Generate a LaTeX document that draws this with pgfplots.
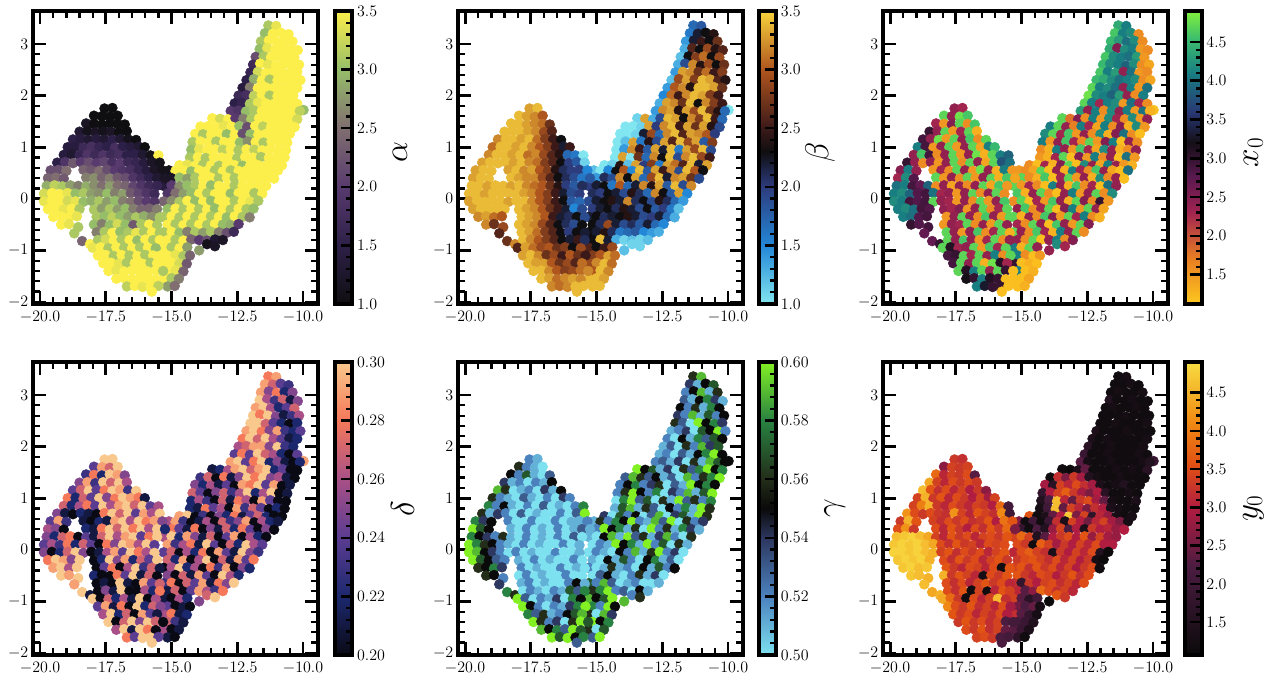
\documentclass[border=0pt]{standalone}
\usepackage{pgfplots}
\usepackage{pgfplotstable}
\pgfplotsset{compat=1.18}
\pgfplotstableread{
x y a b c d e f
-11.32 3.36 3.1 1.7 4.4 .28 .56 1.2
-11.02 3.35 3.4 1.8 4.1 .29 .59 1.3
-11.45 3.21 3.0 1.6 4.6 .29 .54 1.2
-11.15 3.2 3.5 2.2 4.1 .27 .51 1.2
-10.85 3.22 3.5 2.3 4.2 .24 .55 1.3
-10.55 3.19 3.5 2.4 1.6 .23 .57 1.2
-11.6 3.05 3.1 1.4 4.5 .29 .52 1.2
-11.3 3.07 3.5 2.2 4.3 .25 .55 1.3
-11.0 3.04 3.5 2.5 4.0 .28 .59 1.2
-10.7 3.06 3.5 2.3 4.2 .22 .51 1.2
-10.4 3.05 3.5 2.7 1.6 .25 .56 1.3
-11.65 2.9 3.0 1.3 4.4 .3 .53 1.5
-11.36 2.92 3.4 2.6 2.5 .26 .51 1.2
-11.07 2.89 3.5 2.3 4.2 .23 .55 1.2
-10.77 2.91 3.5 2.9 4.1 .27 .58 1.3
-10.47 2.9 3.5 2.4 1.5 .21 .54 1.2
-10.2 2.88 3.5 2.6 1.6 .25 .51 1.2
-11.8 2.75 2.2 1.2 4.6 .29 .55 1.2
-11.5 2.76 3.1 2.3 4.2 .3 .52 1.3
-11.22 2.74 3.5 2.8 4.1 .26 .56 1.2
-10.92 2.76 3.5 3.1 4.0 .22 .51 1.2
-10.62 2.75 3.5 2.3 4.3 .24 .58 1.3
-10.33 2.74 3.5 2.9 1.5 .27 .55 1.2
-11.9 2.6 1.7 1.3 4.5 .3 .54 1.2
-11.63 2.62 3.5 1.9 4.2 .28 .52 1.2
-11.33 2.6 3.4 3.2 4.1 .3 .59 1.2
-11.03 2.58 3.5 2.4 3.9 .25 .51 1.3
-10.73 2.61 3.5 2.9 4.2 .21 .57 1.2
-10.43 2.59 3.5 2.3 1.6 .23 .52 1.2
-10.15 2.6 3.5 2.7 1.4 .26 .55 1.2
-12.0 2.45 1.6 1.4 4.6 .3 .56 1.2
-11.72 2.46 3.3 3.3 4.1 .3 .53 1.2
-11.42 2.44 3.5 3.2 4.3 .27 .5 1.3
-11.12 2.46 3.5 2.7 2.4 .24 .6 1.2
-10.82 2.45 3.5 3.1 4.0 .22 .55 1.2
-10.52 2.44 3.5 2.5 1.5 .2 .58 1.2
-10.22 2.46 3.5 2.8 1.6 .22 .54 1.3
-12.15 2.3 1.5 1.2 4.5 .29 .51 1.4
-11.87 2.32 2.9 2.9 4.4 .3 .52 1.2
-11.57 2.29 3.5 3.3 4.2 .28 .54 1.2
-11.27 2.31 3.1 2.8 4.0 .25 .5 1.2
-10.97 2.3 3.5 3.4 4.1 .29 .57 1.3
-10.67 2.31 3.5 3.3 4.2 .23 .55 1.2
-10.37 2.29 3.5 2.6 1.6 .22 .6 1.2
-10.1 2.3 3.5 2.4 1.4 .24 .52 1.2
-12.3 2.15 1.4 1.4 4.7 .28 .52 1.4
-12.02 2.16 2.6 3.0 4.1 .3 .5 1.2
-11.72 2.14 3.5 3.2 4.2 .27 .55 1.3
-11.42 2.16 3.5 2.4 4.0 .3 .51 1.2
-11.12 2.15 3.5 3.4 2.4 .26 .58 1.2
-10.82 2.14 3.5 3.4 4.1 .24 .53 1.2
-10.52 2.16 3.5 3.3 1.5 .21 .57 1.2
-10.22 2.15 3.5 2.7 4.0 .22 .55 1.3
-12.45 2.0 1.7 1.5 4.8 .26 .51 1.6
-12.15 2.01 1.8 3.1 4.2 .27 .53 1.2
-11.87 1.99 3.2 2.5 4.1 .29 .5 1.2
-11.57 2.01 3.5 3.2 3.9 .29 .56 1.3
-11.27 2.0 3.1 3.4 4.3 .25 .52 1.2
-10.97 1.99 3.5 3.3 2.4 .3 .59 1.2
-10.67 2.01 3.5 2.8 1.6 .23 .54 1.2
-10.37 2.0 3.5 2.5 4.1 .22 .57 1.3
-12.6 1.85 1.5 1.3 4.7 .24 .51 1.9
-12.32 1.86 1.6 3.3 4.1 .28 .52 1.2
-12.02 1.84 3.1 3.2 2.3 .24 .5 1.2
-11.72 1.86 3.4 2.7 4.1 .3 .53 1.3
-11.42 1.85 3.5 3.4 4.2 .27 .51 1.2
-11.12 1.84 3.5 2.3 1.5 .26 .55 1.2
-10.82 1.86 3.5 3.2 4.0 .22 .58 1.2
-10.52 1.85 3.5 2.8 2.3 .2 .6 1.3
-10.22 1.84 3.5 2.5 1.6 .24 .55 1.2
-9.98 1.72 3.0 1.0 1.2 .29 .55 1.9
-12.75 1.7 2.0 1.4 4.3 .29 .52 2.3
-12.47 1.71 1.9 3.2 2.4 .3 .53 1.3
-12.17 1.69 3.0 3.3 4.1 .24 .51 1.2
-11.87 1.71 3.1 2.4 1.6 .28 .54 1.2
-11.57 1.7 3.5 3.3 4.2 .3 .5 1.3
-11.27 1.69 3.5 2.9 2.4 .22 .56 1.2
-10.97 1.71 3.5 3.4 4.1 .25 .51 1.2
-10.67 1.7 3.5 2.7 1.5 .21 .59 1.2
-10.37 1.69 3.5 2.4 4.0 .2 .57 1.3
-10.12 1.7 3.2 1.7 1.3 .22 .55 1.5
-13.45 1.56 3.5 1.1 4.7 .21 .6 1.2
-13.15 1.55 3.3 3.3 1.8 .22 .55 1.1
-12.85 1.54 3.5 1.3 2.5 .26 .57 1.4
-12.57 1.56 2.0 1.9 1.6 .29 .51 2.4
-12.27 1.55 2.6 3.4 4.1 .3 .54 1.2
-11.97 1.54 3.1 3.3 1.5 .27 .5 1.2
-11.67 1.56 3.5 2.3 4.2 .29 .56 1.2
-11.37 1.55 3.5 3.2 2.3 .3 .53 1.3
-11.07 1.54 3.5 2.8 1.6 .22 .58 1.2
-10.77 1.56 3.5 3.4 4.2 .24 .6 1.3
-10.47 1.55 3.5 2.5 1.5 .2 .55 1.2
-10.22 1.54 3.3 1.7 2.4 .2 .58 1.6
-13.9 1.4 3.5 1.0 4.1 .23 .53 1.2
-13.6 1.41 3.5 1.0 4.7 .27 .59 3.2
-13.3 1.39 3.5 1.1 2.4 .2 .56 2.6
-13.0 1.41 3.4 3.3 1.7 .28 .53 3.3
-12.72 1.4 3.5 2.0 4.1 .21 .55 2.9
-12.42 1.41 3.0 3.2 2.3 .25 .51 1.5
-12.12 1.39 2.2 3.4 1.4 .3 .53 1.3
-11.82 1.41 3.5 2.5 4.1 .28 .5 1.2
-11.52 1.4 3.2 3.3 1.6 .3 .59 1.2
-11.22 1.39 3.5 2.7 2.5 .25 .52 1.3
-10.92 1.41 3.5 3.3 1.3 .26 .56 1.2
-10.62 1.4 3.5 2.4 4.2 .21 .58 1.2
-10.32 1.39 3.5 1.9 1.5 .2 .6 1.2
-14.1 1.26 3.5 1.0 4.2 .25 .52 2.9
-13.8 1.25 3.1 1.0 4.7 .22 .55 1.6
-13.5 1.24 3.5 1.1 2.3 .26 .58 3.4
-13.2 1.26 3.5 2.2 4.6 .21 .52 3.1
-12.9 1.25 3.0 2.9 1.5 .24 .54 3.5
-12.6 1.24 3.5 1.7 2.4 .2 .56 3.2
-12.3 1.26 2.2 3.2 1.6 .29 .5 2.9
-12.0 1.25 3.0 3.4 4.2 .28 .53 1.4
-11.7 1.24 3.5 2.6 1.3 .3 .51 1.2
-11.4 1.26 3.5 3.3 2.5 .24 .6 1.3
-11.1 1.25 3.5 3.2 4.0 .29 .55 1.5
-10.8 1.24 3.5 3.0 1.6 .2 .58 1.2
-10.5 1.26 3.5 2.0 1.2 .21 .55 1.2
-14.2 1.1 3.1 1.0 4.1 .27 .52 1.8
-13.9 1.11 3.5 1.2 1.5 .24 .56 3.0
-13.6 1.09 3.5 3.3 2.4 .2 .6 3.4
-13.3 1.11 3.1 1.6 4.6 .25 .55 3.7
-13.0 1.1 3.5 2.4 2.3 .27 .52 3.3
-12.7 1.11 3.5 1.9 1.6 .23 .58 2.9
-12.4 1.09 3.0 3.3 4.7 .26 .5 2.6
-12.1 1.11 2.7 2.6 1.5 .3 .54 3.0
-11.8 1.1 3.5 3.4 2.5 .22 .52 1.6
-11.5 1.09 3.1 2.9 4.1 .26 .59 1.2
-11.2 1.11 3.5 3.3 1.2 .3 .51 1.2
-10.9 1.1 3.5 1.8 2.4 .2 .57 1.3
-10.6 1.09 3.5 2.8 1.6 .21 .6 1.2
-14.25 .95 3.0 1.0 1.6 .22 .5 1.5
-13.95 .96 3.4 1.4 1.3 .26 .58 2.2
-13.65 .94 3.5 3.2 4.1 .23 .6 4.6
-13.35 .96 3.5 2.5 2.4 .2 .53 3.1
-13.05 .95 3.2 1.8 1.5 .27 .57 2.4
-12.75 .96 3.5 3.3 4.6 .21 .5 3.3
-12.45 .94 3.1 2.2 2.3 .28 .56 3.5
-12.15 .96 3.5 3.4 1.4 .26 .51 2.9
-11.85 .95 3.2 1.6 4.2 .2 .6 2.4
-11.55 .94 3.5 3.3 2.4 .29 .53 1.3
-11.25 .96 3.5 2.9 1.3 .24 .56 1.2
-10.95 .95 3.5 3.4 1.6 .2 .52 1.2
-10.65 .94 3.5 1.9 2.4 .2 .58 1.4
-14.3 .8 3.1 1.0 1.5 .22 .51 1.3
-14.0 .81 3.5 3.3 1.3 .21 .57 2.0
-13.7 .79 3.1 1.0 2.3 .28 .59 4.6
-13.4 .81 3.5 2.7 4.7 .24 .51 2.4
-13.1 .8 3.5 1.7 1.2 .26 .56 3.4
-12.8 .81 3.5 3.2 2.5 .2 .53 3.1
-12.5 .79 3.1 2.3 1.5 .29 .5 2.6
-12.2 .81 3.5 3.4 4.1 .23 .55 3.2
-11.9 .8 3.5 1.9 1.6 .27 .52 3.0
-11.6 .81 3.1 3.2 2.4 .24 .58 1.4
-11.3 .79 3.5 3.4 1.2 .2 .51 1.3
-11.0 .81 3.5 2.9 4.0 .22 .6 1.2
-10.7 .8 3.5 2.5 1.5 .2 .56 1.2
-14.7 .65 3.5 1.0 1.6 .29 .54 3.6
-14.4 .66 3.4 1.1 1.2 .3 .5 1.2
-14.1 .64 3.5 2.4 2.3 .2 .57 1.4
-13.8 .66 3.1 1.2 1.3 .23 .52 2.4
-13.5 .65 3.5 3.3 2.5 .2 .55 3.0
-13.2 .64 3.1 2.0 4.7 .25 .5 4.7
-12.9 .66 3.5 2.8 1.2 .22 .53 2.6
-12.6 .65 3.5 1.6 4.2 .28 .59 3.4
-12.3 .64 3.0 3.3 2.4 .21 .5 1.7
-12.0 .66 3.5 3.1 1.4 .24 .54 3.1
-11.7 .65 3.5 2.6 4.1 .27 .57 2.8
-11.4 .64 3.5 3.4 2.4 .22 .51 1.3
-11.1 .66 3.5 2.2 1.5 .2 .6 1.2
-10.8 .65 3.5 3.3 1.3 .2 .56 1.3
-15.1 .55 1.1 1.2 1.5 .26 .51 2.6
-14.85 .54 3.5 1.0 1.6 .29 .56 1.2
-14.55 .55 3.5 1.5 1.4 .23 .52 2.0
-14.25 .53 3.0 2.3 4.7 .2 .58 1.2
-13.95 .55 3.5 3.0 1.2 .21 .55 1.9
-13.65 .54 3.5 1.5 2.4 .26 .6 3.2
-13.35 .55 3.1 3.4 1.3 .2 .52 1.4
-13.05 .53 3.5 1.8 4.1 .27 .51 3.4
-12.75 .55 3.1 3.3 2.3 .23 .59 3.0
-12.45 .54 3.5 2.5 1.6 .25 .53 2.5
-12.15 .55 3.5 3.2 4.6 .29 .6 3.1
-11.85 .53 3.5 1.9 2.4 .2 .5 3.4
-11.55 .55 3.5 3.4 1.4 .26 .56 2.9
-11.25 .54 3.5 3.0 1.2 .22 .52 2.6
-10.95 .55 3.5 2.3 4.0 .21 .54 1.3
-15.0 .4 1.2 1.4 4.7 .28 .52 1.8
-14.7 .41 3.0 2.1 1.6 .24 .6 1.2
-14.4 .39 2.8 1.9 1.3 .21 .55 2.2
-14.1 .41 3.1 3.2 4.6 .28 .58 1.5
-13.8 .4 3.5 2.3 1.2 .2 .51 2.8
-13.5 .41 3.5 3.3 2.3 .25 .56 3.4
-13.2 .39 3.1 1.7 4.7 .21 .5 2.2
-12.9 .41 3.5 2.9 1.5 .27 .6 3.0
-12.6 .4 3.1 3.4 2.4 .22 .52 1.4
-12.3 .41 3.5 2.2 1.3 .28 .56 3.3
-12.0 .39 3.5 3.2 4.2 .24 .51 3.0
-11.7 .41 3.5 3.3 1.6 .2 .58 3.1
-11.4 .4 3.5 2.7 2.4 .25 .54 2.8
-11.1 .39 3.5 1.9 1.2 .2 .51 3.0
-15.3 .25 1.4 2.0 4.7 .26 .51 3.4
-15.0 .26 2.0 2.2 1.5 .3 .5 3.8
-14.7 .24 2.7 2.3 2.3 .22 .55 3.4
-14.4 .26 3.0 1.6 1.6 .29 .59 1.5
-14.1 .25 3.1 3.0 1.2 .25 .51 2.3
-13.8 .24 3.5 1.7 4.1 .21 .6 3.0
-13.5 .26 3.0 2.2 2.4 .27 .53 3.3
-13.2 .25 3.5 3.2 1.3 .2 .56 3.5
-12.9 .24 3.5 2.4 4.6 .24 .51 3.0
-12.6 .26 3.1 3.3 1.6 .29 .54 3.6
-12.3 .25 3.5 1.8 2.3 .2 .59 2.8
-12.0 .24 3.5 3.4 1.2 .26 .52 3.4
-11.7 .26 3.5 1.9 4.0 .22 .5 2.9
-11.4 .25 3.5 3.2 2.4 .2 .56 2.8
-15.15 .1 1.9 2.1 4.6 .29 .5 3.5
-14.85 .11 2.5 2.0 1.3 .23 .52 3.3
-14.55 .09 2.8 2.3 2.4 .26 .51 1.2
-14.25 .11 3.0 2.2 4.7 .28 .6 3.7
-13.95 .1 3.5 1.9 1.6 .21 .55 3.4
-13.65 .11 3.1 2.4 1.2 .3 .58 2.9
-13.35 .09 3.5 2.1 2.4 .24 .51 3.3
-13.05 .11 3.5 1.7 4.1 .2 .6 3.0
-12.75 .1 3.0 3.2 1.5 .27 .52 3.4
-12.45 .11 3.5 2.3 2.4 .22 .57 3.1
-12.15 .09 3.5 1.8 4.7 .3 .5 3.5
-11.85 .11 3.1 3.3 1.6 .26 .56 3.0
-11.55 .1 3.5 1.5 4.2 .24 .51 3.0
-15.3 -.05 2.4 1.9 1.6 .24 .5 3.1
-15.0 -.04 2.7 2.2 4.7 .27 .52 3.5
-14.7 -.06 3.1 2.3 1.2 .2 .51 3.7
-14.4 -.04 3.5 2.4 2.3 .26 .5 3.4
-14.1 -.05 3.0 2.2 1.5 .22 .55 3.2
-13.8 -.06 3.5 3.2 4.6 .28 .52 1.4
-13.5 -.04 3.0 2.1 2.4 .2 .59 3.3
-13.2 -.05 3.5 2.3 1.3 .29 .51 3.0
-12.9 -.06 3.5 1.9 4.7 .24 .56 3.4
-12.6 -.04 3.1 2.4 2.5 .21 .6 3.1
-12.3 -.05 3.5 2.1 1.6 .3 .52 3.5
-12.0 -.06 3.4 1.7 3.0 .25 .54 1.5
-11.7 -.04 3.1 1.4 1.5 .23 .5 1.1
-15.15 -.2 3.0 2.0 2.4 .27 .51 3.3
-14.85 -.19 3.5 2.2 4.6 .22 .5 3.5
-14.55 -.21 3.1 2.3 1.6 .29 .55 3.6
-14.25 -.19 3.5 2.1 2.3 .2 .51 3.4
-13.95 -.2 3.1 2.4 4.7 .26 .57 3.2
-13.65 -.21 3.5 2.2 1.2 .3 .52 3.5
-13.35 -.19 3.0 1.9 2.5 .2 .5 3.1
-13.05 -.2 3.5 2.3 4.1 .27 .55 3.4
-12.75 -.21 3.1 1.8 1.5 .21 .58 3.0
-12.45 -.19 3.5 2.0 4.7 .29 .51 3.3
-12.15 -.2 3.1 1.6 2.4 .24 .53 1.3
-11.88 -.19 3.0 1.2 1.4 .28 .5 1.1
-15.3 -.35 3.1 2.2 4.7 .2 .52 3.4
-15.0 -.34 3.5 2.3 1.3 .26 .5 3.6
-14.7 -.36 3.1 2.1 2.4 .3 .51 3.2
-14.4 -.34 3.5 2.2 1.6 .22 .56 3.6
-14.1 -.35 3.1 2.3 4.6 .26 .51 3.3
-13.8 -.36 3.5 2.4 2.5 .2 .52 3.5
-13.5 -.34 3.1 2.2 1.5 .28 .5 3.1
-13.2 -.35 3.5 1.9 4.7 .23 .55 3.4
-12.9 -.36 3.0 2.0 2.3 .29 .51 3.0
-12.6 -.34 3.5 2.2 4.1 .2 .57 3.3
-12.3 -.35 3.1 1.7 1.6 .25 .52 3.5
-12.03 -.36 2.6 1.3 1.3 .22 .55 1.2
-15.15 -.5 3.5 2.3 2.3 .25 .5 3.6
-14.85 -.49 3.1 2.1 1.6 .2 .53 3.3
-14.55 -.51 3.5 2.9 4.7 .27 .55 3.1
-14.25 -.49 3.1 2.2 2.4 .21 .51 3.5
-13.95 -.5 3.5 1.9 1.2 .29 .5 3.4
-13.65 -.51 3.1 2.1 4.6 .24 .52 3.0
-13.35 -.49 3.5 1.8 2.4 .2 .56 3.3
-13.05 -.5 3.0 2.2 1.5 .3 .51 3.6
-12.75 -.51 2.9 1.7 4.7 .26 .54 3.2
-12.45 -.49 2.0 1.5 2.5 .22 .5 3.5
-15.3 -.65 3.1 2.3 4.7 .23 .57 3.2
-15.0 -.64 3.5 2.2 2.4 .28 .52 1.8
-14.7 -.66 3.0 2.4 1.6 .2 .59 3.3
-14.4 -.64 2.6 2.1 4.6 .27 .53 3.0
-14.1 -.65 3.1 1.6 2.3 .24 .5 3.4
-13.8 -.66 2.8 1.7 1.3 .29 .51 3.5
-13.5 -.64 3.1 1.8 4.1 .21 .52 3.2
-13.2 -.65 2.6 1.5 2.4 .28 .5 3.4
-12.9 -.66 2.2 1.4 4.7 .25 .5 3.1
-12.63 -.64 1.7 1.3 1.6 .3 .51 3.5
-15.15 -.8 3.5 2.3 2.4 .21 .56 3.1
-14.85 -.79 3.1 3.4 1.6 .27 .58 2.3
-14.55 -.81 3.5 2.2 4.7 .2 .6 2.7
-14.25 -.79 2.4 1.3 1.2 .24 .52 3.8
-13.95 -.8 2.0 1.1 2.4 .29 .53 3.5
-13.65 -.81 2.2 1.2 4.1 .26 .5 3.2
-13.35 -.79 1.3 1.1 1.6 .23 .55 3.4
-13.05 -.8 1.2 1.2 2.5 .28 .51 3.1
-15.3 -.95 3.5 2.6 4.1 .21 .59 3.4
-15.0 -.94 3.1 2.3 1.3 .2 .55 2.3
-14.7 -.96 3.5 2.5 4.7 .26 .57 1.6
-14.4 -.94 2.8 2.9 2.4 .22 .6 2.0
-13.95 -1.0 2.8 1.2 2.4 .25 .59 1.1
-13.65 -.88 1.1 1.1 4.2 .27 .52 3.6
-13.35 -.92 1.2 1.1 2.3 .3 .56 3.3
-15.15 -1.1 3.5 2.8 4.1 .24 .58 2.5
-14.85 -1.09 3.4 3.0 1.6 .2 .52 2.2
-14.55 -1.11 3.1 3.3 1.2 .21 .6 2.4
-14.3 -1.1 2.4 3.1 1.5 .2 .55 1.3
-15.3 -1.25 3.5 2.9 3.0 .26 .56 3.2
-15.0 -1.24 3.5 3.2 1.2 .28 .5 2.3
-14.7 -1.26 3.3 3.4 1.3 .21 .59 1.8
-14.42 -1.26 2.3 3.1 1.2 .22 .54 1.3
-15.15 -1.4 3.5 3.0 4.1 .27 .6 2.1
-14.85 -1.39 3.4 3.4 1.2 .23 .55 1.9
-14.55 -1.41 2.4 3.2 1.3 .21 .58 1.5
-15.3 -1.55 3.5 3.4 1.2 .26 .56 2.3
-15.0 -1.54 3.1 3.4 1.2 .2 .5 1.9
-14.72 -1.55 2.6 3.3 1.4 .21 .57 1.4
-15.15 -1.7 2.8 3.4 1.2 .21 .53 1.7
-14.88 -1.69 2.5 3.4 1.3 .2 .6 1.2
-17.55 1.75 1.0 3.3 2.4 .3 .52 3.3
-17.25 1.76 1.0 3.4 2.3 .3 .51 3.2
-17.95 1.61 1.0 3.4 4.7 .24 .56 2.7
-17.65 1.6 1.0 3.3 2.4 .29 .52 3.4
-17.35 1.59 1.0 3.2 4.8 .27 .51 3.3
-17.05 1.61 1.0 3.0 4.6 .3 .5 3.4
-18.25 1.46 1.2 3.4 2.3 .23 .55 3.8
-17.95 1.45 1.0 3.4 1.5 .28 .52 3.1
-17.65 1.44 1.0 3.3 2.5 .22 .57 3.4
-17.35 1.46 1.0 3.2 4.7 .3 .51 3.3
-17.05 1.45 1.0 3.1 1.6 .29 .5 3.5
-16.78 1.44 1.0 2.7 4.6 .25 .53 2.3
-18.5 1.3 1.3 3.4 3.0 .25 .54 4.4
-18.2 1.31 1.1 3.4 2.4 .29 .51 3.4
-17.9 1.29 1.2 3.4 4.7 .23 .52 3.1
-17.6 1.31 1.1 3.3 1.5 .3 .5 3.5
-17.3 1.3 1.2 3.2 2.3 .27 .52 3.3
-17.0 1.29 1.0 2.9 4.7 .3 .51 3.5
-16.7 1.31 1.0 2.6 1.3 .26 .55 3.3
-18.75 1.15 1.5 3.2 2.9 .24 .59 4.6
-18.45 1.16 1.4 3.4 2.4 .27 .56 3.6
-18.15 1.14 1.3 3.4 4.8 .3 .5 3.2
-17.85 1.16 1.4 3.3 1.5 .24 .51 3.5
-17.55 1.15 1.3 3.4 4.7 .28 .52 3.1
-17.25 1.14 1.5 3.1 2.4 .3 .5 3.4
-16.95 1.16 1.3 2.8 4.6 .29 .54 3.0
-16.65 1.15 1.1 2.5 1.6 .23 .51 3.3
-16.35 1.14 1.0 2.3 4.7 .3 .55 2.7
-18.95 1.0 1.4 3.1 4.1 .28 .56 3.4
-18.65 1.01 1.4 3.4 2.9 .22 .52 4.5
-18.35 .99 1.7 3.4 1.5 .27 .51 3.3
-18.05 1.01 1.8 3.3 2.4 .24 .5 3.6
-17.75 1.0 1.6 3.4 4.7 .3 .53 3.1
-17.45 1.01 1.5 3.2 1.5 .25 .51 3.5
-17.15 .99 1.8 3.0 2.4 .28 .5 3.3
-16.85 1.01 1.5 2.8 4.7 .3 .52 3.0
-16.55 1.0 1.4 2.5 1.4 .29 .5 3.4
-16.25 1.01 1.3 2.2 4.1 .28 .54 2.9
-16.02 1.0 1.0 2.5 4.5 .21 .52 3.4
-19.1 .85 1.4 3.2 2.4 .27 .58 3.4
-18.8 .86 1.3 3.4 4.6 .22 .52 4.0
-18.5 .84 1.6 3.4 2.9 .26 .55 4.5
-18.2 .86 1.9 3.3 1.6 .28 .51 3.3
-17.9 .85 1.7 3.4 2.4 .24 .5 3.1
-17.6 .84 1.9 3.1 4.7 .3 .52 3.5
-17.3 .86 1.7 3.2 1.5 .26 .5 3.3
-17.0 .85 1.8 2.9 2.4 .29 .53 3.1
-16.7 .84 1.5 2.6 4.8 .3 .5 3.4
-16.4 .86 1.5 2.4 1.3 .27 .51 3.3
-16.1 .85 1.3 1.7 4.7 .3 .5 3.0
-15.8 .84 1.1 1.6 4.1 .24 .52 3.8
-15.5 .84 3.5 1.0 3.9 .26 .58 2.1
-19.35 .7 1.5 3.3 3.0 .25 .56 4.2
-19.05 .71 1.9 3.4 2.4 .21 .51 3.5
-18.75 .69 2.3 3.4 1.6 .2 .54 3.3
-18.45 .71 2.0 3.4 2.4 .22 .52 3.5
-18.15 .7 2.2 3.3 1.5 .21 .5 3.3
-17.85 .69 2.0 3.4 2.4 .2 .53 3.2
-17.55 .71 2.1 3.2 4.7 .28 .5 4.2
-17.25 .7 1.8 3.1 1.6 .3 .51 3.4
-16.95 .69 2.0 2.8 4.7 .27 .5 3.1
-16.65 .71 1.7 2.6 2.4 .3 .5 3.6
-16.35 .7 1.6 2.3 1.4 .24 .52 3.4
-16.05 .69 1.4 2.0 4.7 .29 .5 3.2
-15.75 .71 1.2 1.8 3.8 .26 .53 4.1
-15.45 .7 1.1 1.1 4.0 .3 .6 2.0
-19.6 .55 2.2 3.3 2.5 .24 .58 3.3
-19.3 .56 2.2 3.4 4.1 .29 .54 4.5
-19.0 .54 2.5 3.4 2.4 .23 .55 3.6
-18.35 .56 2.4 3.3 1.5 .21 .52 3.4
-18.05 .55 2.3 3.4 2.3 .2 .5 3.2
-17.75 .54 2.5 3.2 1.6 .22 .5 3.5
-17.45 .56 2.2 3.3 4.7 .21 .52 3.3
-17.15 .55 2.0 3.0 2.4 .29 .5 3.5
-16.85 .54 1.9 2.8 1.5 .3 .5 3.2
-16.55 .56 1.8 2.4 4.8 .26 .52 3.3
-16.25 .55 1.6 2.1 2.4 .3 .5 3.6
-15.95 .54 1.4 2.0 1.3 .28 .51 3.0
-15.65 .56 1.2 2.0 4.1 .29 .51 3.9
-15.35 .55 1.1 1.5 1.5 .25 .52 3.6
-19.7 .4 2.4 3.3 2.3 .26 .6 3.5
-19.4 .41 2.5 3.4 4.2 .25 .57 4.2
-19.1 .39 2.3 3.4 2.8 .2 .55 3.3
-18.25 .41 2.6 3.4 4.7 .22 .51 3.5
-17.95 .4 2.7 3.3 1.5 .21 .5 3.1
-17.65 .41 2.4 3.2 2.4 .28 .52 3.6
-17.35 .39 2.6 3.2 1.6 .3 .5 3.3
-17.05 .41 2.3 2.9 4.7 .27 .51 3.0
-16.75 .4 2.2 2.6 1.5 .3 .5 3.5
-16.45 .41 1.9 2.3 2.4 .28 .52 3.2
-16.15 .39 1.7 2.1 4.7 .3 .5 3.6
-15.85 .41 1.5 1.9 1.3 .26 .51 3.3
-15.55 .4 1.3 1.6 4.6 .3 .53 3.8
-15.25 .4 1.2 1.8 1.4 .22 .51 2.6
-19.75 .25 2.9 3.4 4.0 .25 .58 4.6
-19.45 .26 3.2 3.4 4.1 .22 .55 4.7
-19.15 .24 3.1 3.3 2.9 .27 .54 4.8
-18.85 .26 2.8 3.4 2.7 .28 .52 4.6
-18.55 .25 2.6 3.4 3.9 .2 .56 4.4
-18.25 .24 2.9 3.3 1.6 .24 .51 3.4
-17.95 .26 2.7 3.4 2.4 .21 .5 3.1
-17.65 .25 2.5 3.2 1.4 .27 .52 3.6
-17.35 .24 2.8 3.1 2.4 .3 .5 3.3
-17.05 .26 2.5 3.0 1.6 .26 .51 3.5
-16.75 .25 2.4 2.7 2.4 .29 .5 3.1
-16.45 .24 2.1 2.4 4.7 .3 .52 3.4
-16.15 .26 1.9 2.0 1.4 .24 .5 3.5
-15.85 .25 1.7 1.8 4.6 .28 .53 3.3
-15.55 .25 1.6 2.1 1.5 .3 .5 3.6
-19.85 .1 3.3 3.4 4.1 .24 .6 4.7
-19.55 .11 3.5 3.4 4.2 .26 .58 4.8
-19.25 .09 3.5 3.3 3.9 .23 .56 4.7
-18.95 .11 3.4 3.4 2.8 .28 .55 4.8
-18.65 .1 3.0 3.4 2.9 .22 .52 4.6
-18.35 .11 3.1 3.4 4.0 .27 .51 4.4
-18.05 .09 2.8 3.4 2.3 .24 .5 3.5
-17.75 .11 2.7 3.3 2.4 .2 .52 3.2
-17.45 .1 3.0 3.2 1.5 .28 .5 3.6
-17.15 .11 2.6 3.0 2.4 .25 .51 3.3
-16.85 .09 2.8 2.8 4.7 .3 .5 3.4
-16.55 .11 2.3 2.5 1.6 .29 .5 3.1
-16.25 .1 2.1 2.2 2.4 .26 .52 3.5
-15.95 .11 1.9 1.9 4.7 .3 .5 3.4
-15.65 .09 1.7 2.0 1.6 .24 .51 3.5
-19.85 -.05 3.4 3.3 4.2 .25 .6 4.8
-19.55 -.04 3.5 3.4 4.1 .2 .59 4.8
-19.25 -.06 3.5 3.4 2.9 .22 .55 4.7
-18.95 -.04 3.3 3.4 2.8 .27 .54 4.8
-18.65 -.05 3.4 3.4 2.9 .3 .52 4.6
-18.35 -.06 3.0 3.3 4.7 .25 .5 4.5
-18.05 -.04 2.9 3.4 2.4 .2 .52 3.4
-17.75 -.05 3.1 3.4 2.3 .21 .5 3.6
-17.45 -.06 2.8 3.2 1.5 .26 .51 3.2
-17.15 -.04 3.0 3.0 2.4 .29 .5 3.5
-16.85 -.05 2.6 2.8 1.6 .24 .5 3.3
-16.55 -.06 2.5 2.5 4.7 .3 .52 3.5
-16.25 -.04 2.2 2.3 1.5 .28 .5 3.1
-15.95 -.05 2.0 1.8 2.4 .26 .5 3.4
-15.65 -.06 1.9 1.7 4.6 .3 .51 3.6
-19.7 -.2 3.5 3.3 4.1 .28 .6 4.7
-19.4 -.19 3.5 3.4 4.2 .3 .57 4.8
-19.1 -.21 3.4 3.4 4.0 .29 .55 4.7
-18.8 -.19 3.5 3.4 2.9 .25 .53 4.8
-18.5 -.2 3.1 3.4 2.8 .3 .52 4.5
-17.95 -.21 3.1 3.4 2.4 .2 .51 3.5
-17.65 -.19 2.8 3.3 2.3 .22 .5 3.2
-17.35 -.2 3.1 3.2 2.5 .3 .52 3.6
-17.05 -.21 2.8 3.0 1.5 .25 .5 3.3
-16.75 -.19 3.0 2.7 2.4 .29 .51 3.5
-16.45 -.2 2.6 2.5 4.7 .22 .5 3.1
-16.15 -.21 2.4 2.2 1.6 .27 .5 3.4
-15.85 -.19 2.4 1.5 2.3 .24 .52 3.6
-15.55 -.2 2.6 1.9 4.7 .3 .5 3.3
-19.5 -.35 3.5 3.2 4.1 .29 .56 4.7
-19.2 -.34 3.5 3.3 4.0 .3 .55 4.8
-18.9 -.36 3.5 3.1 2.8 .26 .58 4.6
-18.6 -.34 3.4 3.0 2.9 .3 .54 4.7
-17.85 -.35 3.1 3.4 1.5 .2 .52 3.6
-17.55 -.34 3.0 3.3 2.4 .24 .5 3.3
-17.25 -.36 3.2 3.2 4.7 .28 .51 3.1
-16.95 -.34 3.0 3.0 2.4 .2 .5 3.5
-16.65 -.35 2.8 2.5 1.6 .26 .5 3.4
-16.35 -.36 3.1 2.2 4.6 .3 .52 3.1
-16.05 -.34 2.9 2.1 2.4 .23 .5 3.5
-15.75 -.35 2.7 2.3 1.5 .27 .51 1.2
-15.45 -.36 3.1 1.9 4.7 .21 .5 3.6
-19.2 -.5 3.5 3.2 3.0 .3 .56 4.7
-18.9 -.49 3.4 2.7 2.8 .29 .55 4.6
-18.55 -.55 3.1 2.9 2.9 .3 .52 4.5
-17.95 -.5 3.0 3.4 1.5 .22 .5 4.5
-17.65 -.49 2.6 3.3 2.4 .2 .52 3.3
-17.35 -.51 3.0 3.2 2.3 .2 .5 3.6
-17.05 -.49 3.3 2.9 4.7 .28 .51 3.4
-16.75 -.5 3.0 2.6 1.6 .24 .5 3.1
-16.45 -.51 2.3 2.3 2.4 .3 .5 1.3
-16.15 -.49 3.1 2.1 1.5 .21 .52 3.5
-15.85 -.5 3.5 1.9 4.7 .27 .5 3.3
-15.55 -.51 3.1 2.3 2.4 .2 .5 3.6
-18.7 -.67 3.1 2.6 2.7 .29 .54 4.6
-17.85 -.65 2.6 3.4 4.7 .2 .51 3.5
-17.55 -.64 3.1 3.3 2.4 .21 .52 3.2
-17.25 -.66 3.5 3.1 1.5 .2 .5 3.5
-16.95 -.64 3.0 2.8 2.4 .3 .51 3.1
-16.65 -.65 3.1 2.6 4.6 .21 .5 3.4
-16.35 -.66 3.4 2.3 1.6 .2 .5 3.6
-16.05 -.64 3.1 2.0 2.3 .29 .52 3.3
-15.75 -.65 3.5 2.3 4.7 .24 .55 3.5
-15.45 -.66 3.1 2.2 1.3 .27 .51 3.1
-18.4 -.82 2.4 2.7 2.7 .3 .58 4.4
-18.1 -.88 3.5 3.2 3.0 .21 .56 4.5
-17.8 -.8 3.1 3.4 4.7 .2 .5 3.5
-17.5 -.79 3.3 3.2 2.4 .25 .52 3.2
-17.2 -.81 3.5 3.0 4.6 .21 .51 3.6
-16.9 -.79 3.1 2.8 2.4 .3 .5 1.2
-16.6 -.8 3.5 2.6 1.5 .2 .52 3.4
-16.3 -.81 3.0 2.3 2.3 .2 .51 1.2
-16.0 -.79 3.5 2.2 4.7 .26 .57 3.1
-15.7 -.8 3.1 2.5 1.6 .22 .53 3.6
-15.45 -.8 3.5 2.1 2.4 .28 .58 3.4
-18.0 -.95 3.4 2.6 4.7 .3 .6 4.4
-17.7 -.94 3.5 3.3 3.1 .2 .53 3.8
-17.4 -.96 3.1 3.1 2.3 .27 .5 3.3
-17.1 -.94 3.5 2.9 2.4 .22 .52 1.2
-16.8 -.95 3.1 3.0 4.7 .26 .51 3.5
-16.5 -.96 3.5 2.7 1.5 .21 .54 3.1
-16.2 -.94 3.1 2.8 4.6 .3 .5 3.4
-15.9 -.95 3.5 2.3 2.3 .2 .58 4.6
-15.6 -.96 3.0 2.9 4.7 .26 .55 3.2
-17.8 -1.1 3.5 3.3 2.9 .24 .6 4.1
-17.5 -1.09 3.5 3.4 3.0 .29 .55 3.5
-17.2 -1.11 3.1 3.2 4.7 .21 .52 3.3
-16.9 -1.09 3.5 2.7 2.3 .28 .5 3.6
-16.6 -1.1 3.1 2.9 4.7 .2 .52 3.2
-16.3 -1.11 3.5 2.5 2.4 .3 .51 3.4
-16.0 -1.09 3.1 3.0 4.1 .22 .54 3.1
-15.7 -1.1 3.5 2.7 1.6 .27 .58 3.5
-15.42 -1.1 3.5 2.5 4.7 .25 .6 2.9
-17.6 -1.25 3.5 3.4 2.9 .26 .58 3.6
-17.3 -1.24 3.5 3.3 4.7 .3 .53 3.3
-17.0 -1.26 3.4 3.3 2.4 .22 .56 3.5
-16.7 -1.24 3.1 3.0 4.7 .27 .51 3.1
-16.4 -1.25 3.5 2.7 1.3 .2 .52 3.4
-16.1 -1.26 3.5 2.9 4.8 .29 .55 3.2
-15.8 -1.24 3.1 2.6 3.1 .24 .57 3.5
-15.55 -1.25 3.5 3.1 2.3 .21 .59 3.0
-17.4 -1.4 3.5 3.4 4.7 .3 .6 3.3
-17.1 -1.39 3.4 3.4 3.1 .2 .56 3.6
-16.8 -1.41 3.5 3.2 4.1 .27 .52 3.3
-16.5 -1.39 3.5 3.0 4.7 .3 .54 3.5
-16.2 -1.4 3.5 2.8 2.4 .25 .5 3.2
-15.9 -1.41 3.5 2.9 4.7 .3 .56 3.4
-15.6 -1.39 3.5 3.1 3.0 .27 .6 2.2
-15.32 -1.4 3.1 3.2 1.2 .2 .57 2.1
-17.1 -1.55 3.5 3.4 3.2 .26 .59 3.5
-16.8 -1.54 3.5 3.3 3.0 .3 .55 3.3
-16.5 -1.56 3.5 3.1 4.1 .21 .58 3.6
-16.2 -1.54 3.5 3.2 3.1 .3 .53 3.2
-15.9 -1.55 3.5 3.3 3.0 .28 .6 3.4
-15.6 -1.56 3.5 3.2 1.2 .2 .57 2.4
-16.7 -1.7 3.2 3.2 4.1 .28 .6 3.4
-16.4 -1.69 3.5 3.1 3.3 .24 .57 3.5
-16.1 -1.71 3.4 3.2 3.0 .3 .6 3.3
-15.8 -1.7 3.5 3.4 3.0 .3 .55 2.2
-15.5 -1.69 3.2 3.4 1.2 .24 .58 2.1
-15.75 -1.8 3.5 3.4 1.2 .3 .53 2.2
}\pts
\pgfplotsset{
 colormap={ca}{rgb255(0)=(15,14,16) rgb255(2)=(45,32,72) rgb255(4)=(88,58,110) rgb255(6)=(128,110,112) rgb255(8)=(150,190,105) rgb255(10)=(252,238,75)},
 colormap={cb}{rgb255(0)=(130,230,240) rgb255(2)=(35,135,215) rgb255(4)=(45,60,125) rgb255(5.2)=(15,14,16) rgb255(6)=(60,25,25) rgb255(8)=(175,85,30) rgb255(10)=(248,212,60)},
 colormap={cc}{rgb255(0)=(253,200,30) rgb255(2)=(232,125,35) rgb255(4)=(160,35,80) rgb255(5.5)=(90,25,80) rgb255(7)=(20,15,22) rgb255(8.3)=(40,55,115) rgb255(10)=(25,125,130) rgb255(11.5)=(60,190,110) rgb255(12.7)=(130,240,60)},
 colormap={cd}{rgb255(0)=(10,10,20) rgb255(2)=(28,40,110) rgb255(4)=(90,60,145) rgb255(6)=(168,80,135) rgb255(8)=(245,120,90) rgb255(10)=(248,200,140)},
 colormap={ce}{rgb255(0)=(125,225,240) rgb255(2)=(75,130,190) rgb255(4)=(45,55,95) rgb255(5)=(10,10,10) rgb255(6)=(35,45,25) rgb255(8)=(40,130,65) rgb255(10)=(130,240,35)},
 colormap={cf}{rgb255(0)=(10,10,10) rgb255(3)=(75,28,65) rgb255(5)=(175,28,65) rgb255(6.5)=(225,80,20) rgb255(8)=(240,140,20) rgb255(10)=(248,220,65)},
 panel/.style={
  scale only axis, width=213.75pt, height=219.75pt,
  xmin=-20.27, xmax=-9.43, ymin=-2.04, ymax=3.64,
  anchor=south west, clip=true,
  xtick={-20,-17.5,-15,-12.5,-10}, ytick={-2,-1,0,1,2,3},
  minor x tick num=4, minor y tick num=4,
  tick align=inside, tick pos=both,
  major tick length=9.5pt, minor tick length=5.5pt,
  major tick style={black,line width=2.1pt}, minor tick style={black,line width=1.7pt},
  axis line style={black,line width=3pt},
  scaled ticks=false,
  tick label style={font=\fontsize{12}{14}\selectfont},
  xticklabel style={yshift=-2pt,/pgf/number format/.cd,fixed,fixed zerofill,precision=1},
  yticklabel style={/pgf/number format/.cd,fixed,precision=0},
  xticklabel pos=bottom, yticklabel pos=left,
  colorbar,
  scatter/use mapped color={draw=mapped color,fill=mapped color},
 },
 cbar/.style 2 args={colorbar style={
   scale only axis, width=12.75pt, height=219.75pt,
   at={(parent axis.north east)}, anchor=north west, xshift=#1,
   axis on top,
   tick align=inside, ytick pos=right, yticklabel pos=right, xtick=\empty,
   major tick length=8.5pt, minor tick length=4.5pt,
   major tick style={black,line width=1.9pt}, minor tick style={black,line width=1.6pt},
   axis line style={black,line width=3pt},
   minor y tick num=4, scaled ticks=false,
   tick label style={font=\fontsize{12}{14}\selectfont},
   #2,
 }},
 pts/.style={scatter, only marks, mark=*, mark size=3.7pt, scatter src=explicit},
}
\begin{document}
\begin{tikzpicture}
\path[use as bounding box] (0,0) rectangle (957pt,509.25pt);
\begin{axis}[panel, at={(24.75pt,281.25pt)}, colormap name=ca, point meta min=1, point meta max=3.5,
 cbar={4.5pt}{ytick={1,1.5,2,2.5,3,3.5},yticklabel style={/pgf/number format/.cd,fixed,fixed zerofill,precision=1}}]
\addplot[pts] table[x=x,y=y,meta=a] {\pts};
\end{axis}
\begin{axis}[panel, at={(343.5pt,281.25pt)}, colormap name=cb, point meta min=1, point meta max=3.5,
 cbar={3.5pt}{ytick={1,1.5,2,2.5,3,3.5},yticklabel style={/pgf/number format/.cd,fixed,fixed zerofill,precision=1}}]
\addplot[pts] table[x=x,y=y,meta=b] {\pts};
\end{axis}
\begin{axis}[panel, at={(662.25pt,281.25pt)}, colormap name=cc, point meta min=1.12, point meta max=4.9,
 cbar={4pt}{ytick={1.5,2,2.5,3,3.5,4,4.5},yticklabel style={/pgf/number format/.cd,fixed,fixed zerofill,precision=1}}]
\addplot[pts] table[x=x,y=y,meta=c] {\pts};
\end{axis}
\begin{axis}[panel, at={(24.75pt,18pt)}, colormap name=cd, point meta min=.2, point meta max=.3,
 cbar={4.5pt}{ytick={.2,.22,.24,.26,.28,.3},yticklabel style={/pgf/number format/.cd,fixed,fixed zerofill,precision=2}}]
\addplot[pts] table[x=x,y=y,meta=d] {\pts};
\end{axis}
\begin{axis}[panel, at={(343.5pt,18pt)}, colormap name=ce, point meta min=.5, point meta max=.6,
 cbar={3.5pt}{ytick={.5,.52,.54,.56,.58,.6},yticklabel style={/pgf/number format/.cd,fixed,fixed zerofill,precision=2}}]
\addplot[pts] table[x=x,y=y,meta=e] {\pts};
\end{axis}
\begin{axis}[panel, at={(662.25pt,18pt)}, colormap name=cf, point meta min=1.07, point meta max=4.9,
 cbar={4pt}{ytick={1.5,2,2.5,3,3.5,4,4.5},yticklabel style={/pgf/number format/.cd,fixed,fixed zerofill,precision=1}}]
\addplot[pts] table[x=x,y=y,meta=f] {\pts};
\end{axis}
\node[rotate=90,font=\fontsize{24}{28}\selectfont] at (300pt,395pt) {$\alpha$};
\node[rotate=90,font=\fontsize{24}{28}\selectfont] at (615pt,395pt) {$\beta$};
\node[rotate=90,font=\fontsize{24}{28}\selectfont] at (940pt,395pt) {$x_0$};
\node[rotate=90,font=\fontsize{24}{28}\selectfont] at (302pt,128pt) {$\delta$};
\node[rotate=90,font=\fontsize{24}{28}\selectfont] at (626pt,128pt) {$\gamma$};
\node[rotate=90,font=\fontsize{24}{28}\selectfont] at (940pt,128pt) {$y_0$};
\end{tikzpicture}
\end{document}
